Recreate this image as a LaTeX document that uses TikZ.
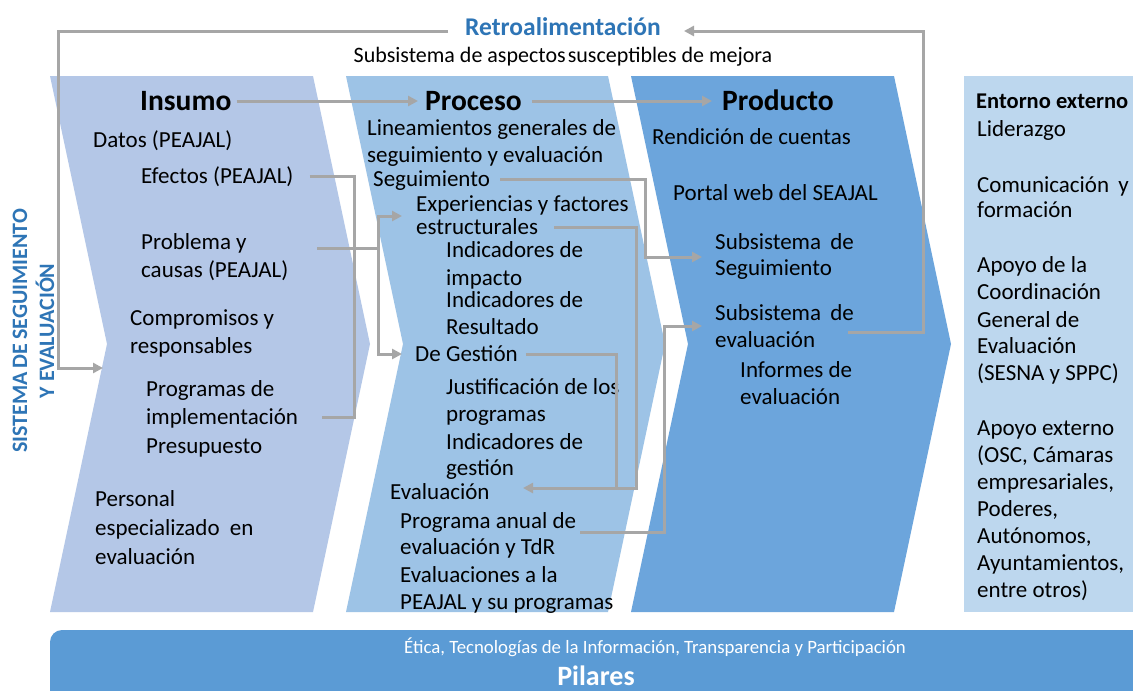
\documentclass[tikz,border=0pt]{standalone}
\usepackage{fontspec}
\setmainfont{Carlito}
\usetikzlibrary{arrows.meta}
\definecolor{cIns}{HTML}{B4C7E7}
\definecolor{cPro}{HTML}{9DC3E6}
\definecolor{cPrd}{HTML}{6CA5DC}
\definecolor{cEnt}{HTML}{BDD7EE}
\definecolor{cPil}{HTML}{5B9BD5}
\definecolor{cBlue}{HTML}{2E75B6}
\definecolor{cLine}{HTML}{A6A6A6}
\newcommand\fb{\fontsize{23}{27}\selectfont}
\newcommand\ftit{\bfseries\fontsize{29.5}{32}\selectfont}
\tikzset{
  t/.style={anchor=west, inner sep=0pt, font=\fb, text height=15pt, text depth=1pt},
  tit/.style={anchor=west, inner sep=0pt, font=\ftit, text height=19pt, text depth=1pt},
  ln/.style={draw=cLine, line width=3pt},
  arr/.style={ln, -{Triangle[length=10pt,width=10pt]}},
  arr2/.style={ln, {Triangle[length=10pt,width=10pt]}-{Triangle[length=10pt,width=10pt]}}
}
\begin{document}
\begin{tikzpicture}[x=1pt,y=-1pt]
\useasboundingbox (0,0) rectangle (1133,691);
\clip (0,0) rectangle (1133,691);
\fill[white] (0,0) rectangle (1133,691);
% chevrons
\fill[cIns] (50,76) -- (313,76) -- (370,344) -- (313,612) -- (50,612) -- (107,344) -- cycle;
\fill[cPro] (346,76) -- (608,76) -- (665,344) -- (608,612) -- (346,612) -- (403,344) -- cycle;
\fill[cPrd] (631,76) -- (894,76) -- (951,344) -- (894,612) -- (631,612) -- (688,344) -- cycle;
\fill[cEnt] (964,76) rectangle (1140,612);
% pillars bar
\fill[cPil, rounded corners=12pt] (50,630) rectangle (1170,730);
\node[anchor=base, inner sep=0pt, font=\fontsize{18.8}{21}\selectfont, text=white] (etica) at (655,653) {Ética, Tecnologías de la Información, Transparencia y Participación};
\node[anchor=base, inner sep=0pt, font=\bfseries\fontsize{28}{30}\selectfont, text=white] (pil) at (596,685.5) {Pilares};
% top
\node[inner sep=0pt, font=\bfseries\fontsize{25.5}{28}\selectfont, text=cBlue] (retro) at (563,27) {Retroalimentación};
\node[inner sep=0pt, font=\fontsize{22}{27}\selectfont] (asm) at (563,57) {Subsistema de aspectos\kern2pt susceptibles de mejora};
% side label
\node[rotate=90, align=center, inner sep=0pt, font=\bfseries\fontsize{22}{27}\selectfont, text=cBlue] (sys) at (33.5,331) {SISTEMA\kern4pt DE\kern4pt SEGUIMIENTO\\Y EVALUACIÓN};
% Insumo
\node[tit] (ins) at (140,101) {Insumo};
\node[t] (datos) at (93,140) {Datos (PEAJAL)};
\node[t] (efectos) at (141,176) {Efectos (PEAJAL)};
\node[t] (probl1) at (141,242) {Problema y};
\node[t] (probl2) at (141,270) {causas (PEAJAL)};
\node[t] (comp1) at (130,318) {Compromisos y};
\node[t] (comp2) at (130,346) {responsables};
\node[t] (prog1) at (146,389) {Programas de};
\node[t] (prog2) at (146,417) {implementación};
\node[t] (presu) at (146,446) {Presupuesto};
\node[t] (pers1) at (95,499) {Personal};
\node[t] (pers2) at (95,528) {especializado\kern5pt\ en};
\node[t] (pers3) at (95,557) {evaluación};
% Proceso
\node[tit] (proc) at (425,101) {Proceso};
\node[t] (lin1) at (367,128) {Lineamientos generales de};
\node[t] (lin2) at (367,155) {seguimiento y evaluación};
\node[t] (seg) at (373,179) {Seguimiento};
\node[t] (exp1) at (416,204) {Experiencias y factores};
\node[t] (exp2) at (416,227) {estructurales};
\node[t] (ind1) at (446,250) {Indicadores de};
\node[t] (ind2) at (446,278) {impacto};
\node[t] (ind3) at (446,300) {Indicadores de};
\node[t] (ind4) at (446,327) {Resultado};
\node[t] (gest) at (415,354) {De Gestión};
\node[t] (jus1) at (446,387) {Justificación de los};
\node[t] (jus2) at (446,414) {programas};
\node[t] (ig1) at (446,442) {Indicadores de};
\node[t] (ig2) at (446,468) {gestión};
\node[t] (eval) at (390,492) {Evaluación};
\node[t] (pa1) at (400,521) {Programa anual de};
\node[t] (pa2) at (400,547) {evaluación y TdR};
\node[t] (ev1) at (400,575) {Evaluaciones a la};
\node[t] (ev2) at (400,602) {PEAJAL y su programas};
% Producto
\node[tit] (prod) at (722,101) {Producto};
\node[t] (rend) at (652,137) {Rendición de cuentas};
\node[t] (portal) at (673,193) {Portal web del SEAJAL};
\node[t] (ss1) at (715,242) {Subsistema\kern4pt\ de};
\node[t] (ss2) at (715,268) {Seguimiento};
\node[t] (se1) at (715,313) {Subsistema\kern4pt\ de};
\node[t] (se2) at (715,340) {evaluación};
\node[t] (inf1) at (740,370) {Informes de};
\node[t] (inf2) at (740,397) {evaluación};
% Entorno
\node[t, font=\bfseries\fontsize{22.5}{27}\selectfont] (ent) at (976,101) {Entorno externo};
\node[t] (e1) at (977,129) {Liderazgo};
\node[t] (e2) at (977,185) {Comunicación\kern4pt\ y};
\node[t] (e3) at (977,210) {formación};
\node[t] (e4) at (977,265) {Apoyo de la};
\node[t] (e5) at (977,292) {Coordinación};
\node[t] (e6) at (977,320) {General de};
\node[t] (e7) at (977,346) {Evaluación};
\node[t] (e8) at (977,373) {(SESNA y SPPC)};
\node[t] (e9) at (977,428) {Apoyo externo};
\node[t] (e10) at (977,455) {(OSC, Cámaras};
\node[t] (e11) at (977,482) {empresariales,};
\node[t] (e12) at (977,509) {Poderes,};
\node[t] (e13) at (977,536) {Autónomos,};
\node[t] (e14) at (977,563) {Ayuntamientos,};
\node[t] (e15) at (977,590) {entre otros)};
% named bend points
\coordinate (fbA) at (848,332);
\coordinate (fbB) at (923,332);
\coordinate (fbC) at (923,31);
\coordinate (fbD) at (684,31);
\coordinate (fbE) at (448,31);
\coordinate (fbF) at (58,31);
\coordinate (fbG) at (58,368);
\coordinate (fbH) at (103,368);
\coordinate (bA1) at (354,176);
\coordinate (bA2) at (354,417);
\coordinate (pS) at (317,248);
\coordinate (pE) at (378,248);
\coordinate (bB0) at (402,216);
\coordinate (bB1) at (378,216);
\coordinate (bB2) at (378,354);
\coordinate (bB3) at (402,354);
\coordinate (sg1) at (645,179);
\coordinate (sg2) at (645,257);
\coordinate (sg3) at (702,257);
\coordinate (es1) at (636,227);
\coordinate (es2) at (636,488);
\coordinate (es3) at (523,488);
\coordinate (dg1) at (616,354);
\coordinate (dg2) at (616,488);
\coordinate (pa0) at (580,532);
\coordinate (pa3) at (664,532);
\coordinate (pa4) at (664,326);
\coordinate (pa5) at (702,326);
% connectors
\draw[arr] ([xshift=5pt]ins.east) -- ([xshift=-7pt]proc.west);
\draw[arr] ([xshift=10pt]proc.east) -- ([xshift=-10pt]prod.west);
\draw[arr] (fbA) -- (fbB) -- (fbC) -- (fbD);
\draw[arr] (fbE) -- (fbF) -- (fbG) -- (fbH);
\draw[ln] ([xshift=16pt]efectos.east) -- (bA1) -- (bA2) -- ([xshift=24pt]prog2.east);
\draw[ln] (pS) -- (pE);
\draw[arr2] (bB0) -- (bB1) -- (bB2) -- (bB3);
\draw[arr] ([xshift=10pt]seg.east) -- (sg1) -- (sg2) -- (sg3);
\draw[arr] ([xshift=16pt]exp2.east) -- (es1) -- (es2) -- (es3);
\draw[ln] ([xshift=8pt]gest.east) -- (dg1) -- (dg2);
\draw[arr] (pa0) -- (pa3) -- (pa4) -- (pa5);
\end{tikzpicture}
\end{document}
